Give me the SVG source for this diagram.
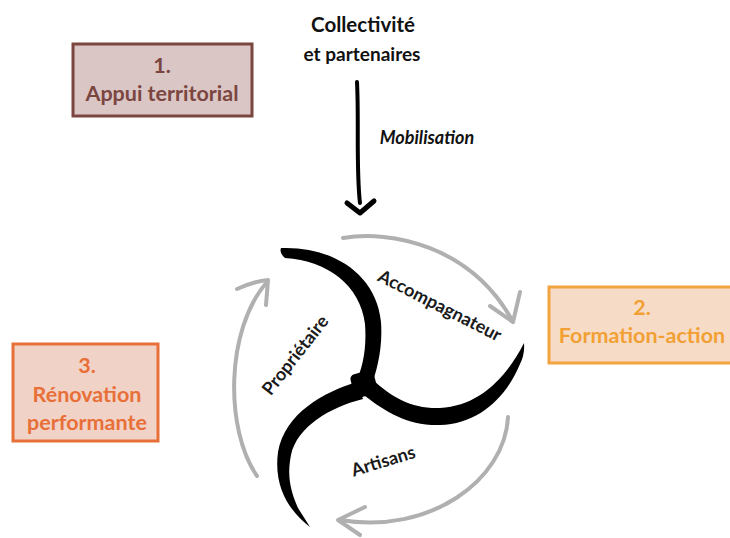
<svg xmlns="http://www.w3.org/2000/svg" width="730" height="538" viewBox="0 0 730 538">
<style>
text{font-family:Lato,"Open Sans","Liberation Sans",sans-serif;font-weight:bold;text-anchor:middle}
.box{stroke-width:3}
.gray{fill:none;stroke:#b0b0b0;stroke-width:4;stroke-linecap:round;stroke-linejoin:round}
.arm{fill:#000}
.lbl{font-size:18px;fill:#1a1a1a}
.head{fill:#111}
.bt{font-size:21.5px}
</style>
<rect width="730" height="538" fill="#fff"/>
<g id="collectivite">
<text class="head" x="363" y="32" font-size="20.5">Collectivité</text>
<text class="head" x="362" y="61" font-size="19">et partenaires</text>
</g>
<g id="box1">
<rect class="box" x="73" y="44" width="179" height="72" fill="#d9c6c5" stroke="#7b4540"/>
<text class="bt" x="162" y="73" fill="#7b4540">1.</text>
<text class="bt" x="162" y="101" fill="#7b4540">Appui territorial</text>
</g>
<g id="box2">
<rect class="box" x="549" y="287" width="185" height="76" fill="#f6dcc6" stroke="#f2a440"/>
<text class="bt" x="642" y="315" fill="#f2a035">2.</text>
<text class="bt" x="642" y="343" fill="#f2a035">Formation-action</text>
</g>
<g id="box3">
<rect class="box" x="13" y="344" width="145" height="97" fill="#f1d2c7" stroke="#e87038"/>
<text class="bt" x="87" y="373" fill="#e87038">3.</text>
<text class="bt" x="87" y="402" fill="#e87038">Rénovation</text>
<text class="bt" x="87" y="430" fill="#e87038">performante</text>
</g>
<g id="triskel">
<path class="arm" d="M281,248 C330,246 376,272 381,322 C383,350 376,372 372,384 L357,380 C362,368 367,350 365,324 C360,285 328,261 285,258 Q279,253 281,248 Z"/>
<path class="arm" d="M373,380 C393,398 412,409 440,408 C478,406 505,380 524,343 Q525,354 520,364 C506,398 478,424 440,425 C408,426 386,412 365,396 Z"/>
<path class="arm" d="M357,382 C324,392 285,413 278,452 C273,490 292,513 310,527 L298,508 C290,490 287,475 291,455 C297,427 330,407 363,399 Z"/>
<rect x="352" y="372" width="24" height="24" rx="5" transform="rotate(-15 364 384)" fill="#000"/>
</g>
<g id="connectors">
<path d="M357,82 C359,120 356,170 360,203" fill="none" stroke="#000" stroke-width="4" stroke-linecap="round"/>
<path d="M347,203 L360,213 L374,201" fill="none" stroke="#000" stroke-width="5" stroke-linecap="round" stroke-linejoin="round"/>
<path class="gray" d="M343,238 C390,230 470,245 512,320"/>
<path class="gray" d="M490,306 L513,322 L520,292"/>
<path class="gray" d="M257,476 C225,430 225,330 267,282"/>
<path class="gray" d="M237,289 Q255,281 268,280 L266,305"/>
<path class="gray" d="M508,417 C505,480 430,535 340,520"/>
<path class="gray" d="M365,507 L338,520 L360,535"/>
</g>
<g id="labels">
<text x="427" y="144" font-size="18" font-style="italic" fill="#111">Mobilisation</text>
<text class="lbl" font-size="19" transform="translate(437,311) rotate(27)">Accompagnateur</text>
<text class="lbl" transform="translate(300,359) rotate(-52)">Propriétaire</text>
<text class="lbl" transform="translate(385,467) rotate(-17)">Artisans</text>
</g>
</svg>
